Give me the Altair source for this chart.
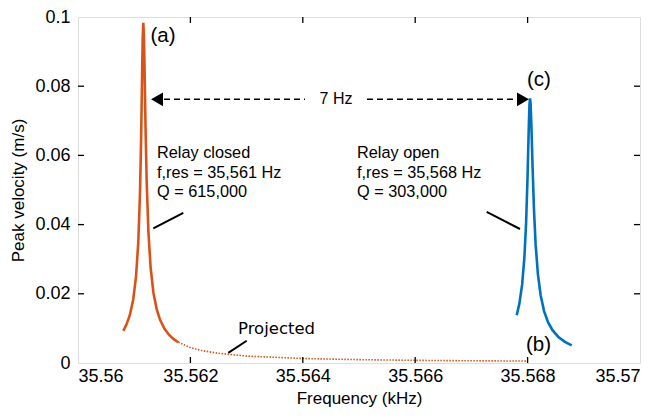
import altair as alt
import pandas as pd

# Relay closed resonance (solid orange)
closed_x = [35.560806, 35.560862, 35.560922, 35.560982, 35.561032, 35.561072, 35.561102,
            35.561122, 35.561142, 35.561152, 35.561162, 35.561172, 35.561182, 35.561202,
            35.561222, 35.561252, 35.561292, 35.561342, 35.561402, 35.561462, 35.561542,
            35.561622, 35.561702, 35.561785]
closed_y = [0.0093, 0.0111, 0.0138, 0.0183, 0.0249, 0.0347, 0.0485, 0.0637, 0.0847, 0.0943,
            0.0983, 0.0951, 0.0870, 0.0678, 0.0526, 0.0382, 0.0276, 0.0203, 0.0154, 0.0124,
            0.0098, 0.0081, 0.0069, 0.0060]

# Projected tail (dotted orange)
proj_x = [35.561785, 35.562, 35.5622, 35.5625, 35.563, 35.564, 35.565, 35.566, 35.567, 35.568]
proj_y = [0.0060, 0.00445, 0.0036, 0.0028, 0.0020, 0.0013, 0.00097, 0.00077, 0.00064, 0.00055]

# Relay open resonance (solid blue)
open_x = [35.567806, 35.567853, 35.567903, 35.567943, 35.567973, 35.567998, 35.568018,
          35.568033, 35.568043, 35.568053, 35.568068, 35.568088, 35.568113, 35.568143,
          35.568183, 35.568233, 35.568293, 35.568363, 35.568443, 35.568543, 35.568663,
          35.568785]
open_y = [0.0138, 0.0171, 0.0227, 0.0305, 0.0404, 0.0532, 0.0663, 0.0746, 0.0765, 0.0750,
          0.0684, 0.0569, 0.0445, 0.0342, 0.0257, 0.0195, 0.0150, 0.0118, 0.0095, 0.0076,
          0.0061, 0.0051]

x_tick_values = [35.56, 35.562, 35.564, 35.566, 35.568, 35.57]
y_tick_values = [0, 0.02, 0.04, 0.06, 0.08, 0.1]
inner_x_ticks = [35.562, 35.564, 35.566, 35.568]
inner_y_ticks = [0.02, 0.04, 0.06, 0.08]

# annotations
arrow_seg_x1 = [35.56153, 35.565142]
arrow_seg_x2 = [35.564039, 35.567794]
arrow_y = 0.0762
arrow_head_x = [35.561406, 35.567918]
arrow_head_shape = ["triangle-left", "triangle-right"]
arrow_label = "7 Hz"
arrow_label_x = 35.564591

pointer_x1 = [35.561340, 35.567272, 35.562674]
pointer_y1 = [0.03893, 0.04365, 0.00294]
pointer_x2 = [35.561874, 35.567865, 35.563002]
pointer_y2 = [0.04337, 0.03873, 0.00642]

letter_text = ["(a)", "(c)", "(b)"]
letter_x = [35.561290, 35.567990, 35.567970]
letter_y = [0.0946, 0.0819, 0.0053]

note_text = ["Relay closed", "f,res = 35,561 Hz", "Q = 615,000",
             "Relay open", "f,res = 35,568 Hz", "Q = 303,000"]
note_x = [35.561406] * 3 + [35.564964] * 3
note_y = [0.0607, 0.0550, 0.0494] * 2

proj_label = "Projected"
proj_label_x = 35.562847
proj_label_y = 0.0098

FONT = "Liberation Sans"
ORANGE = "#D95319"
BLUE = "#0072BD"

W, H = 562, 346

xs = alt.Scale(domain=[35.56, 35.57], nice=False, zero=False)
ys = alt.Scale(domain=[0, 0.1], nice=False)

x_axis = alt.Axis(values=x_tick_values, format="~g", ticks=False, domain=False, grid=False,
                  labelFont=FONT, labelFontSize=18, labelColor="black", labelPadding=4,
                  title="Frequency (kHz)", titleFont=FONT, titleFontSize=17,
                  titleFontWeight="normal", titleColor="black", titlePadding=5)
y_axis = alt.Axis(values=y_tick_values, format="~g", ticks=False, domain=False, grid=False,
                  labelFont=FONT, labelFontSize=18, labelColor="black", labelPadding=8,
                  title="Peak velocity (m/s)", titleFont=FONT, titleFontSize=17,
                  titleFontWeight="normal", titleColor="black", titlePadding=7)

closed_df = pd.DataFrame({"f": closed_x, "v": closed_y})
proj_df = pd.DataFrame({"f": proj_x, "v": proj_y})
open_df = pd.DataFrame({"f": open_x, "v": open_y})

closed = alt.Chart(closed_df).mark_line(color=ORANGE, strokeWidth=2.6).encode(
    x=alt.X("f:Q", scale=xs, axis=x_axis), y=alt.Y("v:Q", scale=ys, axis=y_axis))
proj = alt.Chart(proj_df).mark_line(color=ORANGE, strokeWidth=1.6, strokeDash=[1.5, 1.5]).encode(
    x=alt.X("f:Q", scale=xs), y=alt.Y("v:Q", scale=ys))
opn = alt.Chart(open_df).mark_line(color=BLUE, strokeWidth=2.6).encode(
    x=alt.X("f:Q", scale=xs), y=alt.Y("v:Q", scale=ys))

seg_df = pd.DataFrame({"x1": arrow_seg_x1, "x2": arrow_seg_x2, "y": [arrow_y] * 2})
segs = alt.Chart(seg_df).mark_rule(color="black", strokeWidth=1.5, strokeDash=[6, 4]).encode(
    x=alt.X("x1:Q", scale=xs), x2="x2:Q", y=alt.Y("y:Q", scale=ys))

head_df = pd.DataFrame({"x": arrow_head_x, "y": [arrow_y] * 2, "s": arrow_head_shape})
heads = alt.Chart(head_df).mark_point(filled=True, color="black", size=190, opacity=1).encode(
    x=alt.X("x:Q", scale=xs), y=alt.Y("y:Q", scale=ys),
    shape=alt.Shape("s:N", scale=None))

lab7_df = pd.DataFrame({"x": [arrow_label_x], "y": [arrow_y], "t": [arrow_label]})
lab7 = alt.Chart(lab7_df).mark_text(font=FONT, fontSize=16, color="black",
                                    align="center", baseline="middle").encode(
    x=alt.X("x:Q", scale=xs), y=alt.Y("y:Q", scale=ys), text="t:N")

ptr_df = pd.DataFrame({"x1": pointer_x1, "x2": pointer_x2, "y1": pointer_y1, "y2": pointer_y2})
ptrs = alt.Chart(ptr_df).mark_rule(color="black", strokeWidth=2).encode(
    x=alt.X("x1:Q", scale=xs), x2="x2:Q", y=alt.Y("y1:Q", scale=ys), y2="y2:Q")

let_df = pd.DataFrame({"x": letter_x, "y": letter_y, "t": letter_text})
letters = alt.Chart(let_df).mark_text(font=FONT, fontSize=20.5, color="black",
                                      align="left", baseline="middle").encode(
    x=alt.X("x:Q", scale=xs), y=alt.Y("y:Q", scale=ys), text="t:N")

note_df = pd.DataFrame({"x": note_x, "y": note_y, "t": note_text})
notes = alt.Chart(note_df).mark_text(font=FONT, fontSize=16.3, color="black",
                                     align="left", baseline="middle").encode(
    x=alt.X("x:Q", scale=xs), y=alt.Y("y:Q", scale=ys), text="t:N")

pl_df = pd.DataFrame({"x": [proj_label_x], "y": [proj_label_y], "t": [proj_label]})
plab = alt.Chart(pl_df).mark_text(font="DejaVu Sans", fontSize=16.5, color="black",
                                  align="left", baseline="middle").encode(
    x=alt.X("x:Q", scale=xs), y=alt.Y("y:Q", scale=ys), text="t:N")

xt_df = pd.DataFrame({"x": inner_x_ticks})
yt_df = pd.DataFrame({"y": inner_y_ticks})
bt = alt.Chart(xt_df).mark_rule(color="black", strokeWidth=1.3).encode(
    x=alt.X("x:Q", scale=xs), y=alt.value(H), y2=alt.value(H - 6))
tt = alt.Chart(xt_df).mark_rule(color="black", strokeWidth=1.3).encode(
    x=alt.X("x:Q", scale=xs), y=alt.value(0), y2=alt.value(6))
lt = alt.Chart(yt_df).mark_rule(color="black", strokeWidth=1.3).encode(
    y=alt.Y("y:Q", scale=ys), x=alt.value(0), x2=alt.value(6))
rt = alt.Chart(yt_df).mark_rule(color="black", strokeWidth=1.3).encode(
    y=alt.Y("y:Q", scale=ys), x=alt.value(W), x2=alt.value(W - 6))

chart = alt.layer(closed, proj, opn, segs, heads, lab7, ptrs, letters, notes, plab,
                  bt, tt, lt, rt).properties(
    width=W, height=H,
    autosize=alt.AutoSizeParams(type="none"),
    padding={"left": 70, "top": 9, "right": 10, "bottom": 49},
).configure_view(stroke="black", strokeWidth=1.6).configure(background="white")

chart.save("out.html", embed_options={"renderer": "svg", "actions": False})
